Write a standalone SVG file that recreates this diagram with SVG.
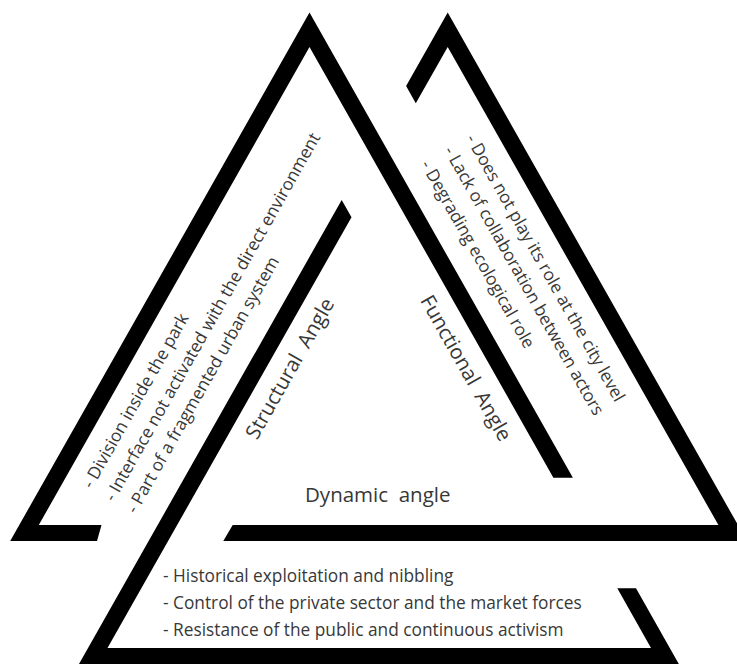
<svg xmlns="http://www.w3.org/2000/svg" width="737" height="664" viewBox="0 0 737 664">
  <style>
    .band { fill: #000; }
    .lbl { font-family: "Open Sans", "Noto Sans", "Liberation Sans", sans-serif; fill: #383838; }
    .title { font-size: 20.5px; }
    .item { font-size: 17.3px; }
  </style>
  <rect width="737" height="664" fill="#fff"/>

  <!-- three interlocking angle bands -->
  <g id="structural-angle">
    <polygon class="band" points="101.5,525 38.8,525 309.5,46.9 553.4,477.7 572.9,477.7 309.5,12.5 10.2,541 97,541"/>
  </g>
  <g id="functional-angle">
    <polygon class="band" points="406.1,86 447.7,12.5 747,541 223.3,541 232.7,525 718.4,525 447.7,46.9 415.8,103.2"/>
  </g>
  <g id="dynamic-angle">
    <polygon class="band" points="341.7,200 351.5,217.2 107.5,648 651,648 617.3,588.3 636,588.3 699.2,700 58.6,700"/>
  </g>

  <!-- angle titles (double-spaced words) -->
  <g id="titles" class="lbl title">
    <text transform="translate(296,372) rotate(-60.5)" text-anchor="middle">Structural&#160; Angle</text>
    <text transform="translate(460,371.5) rotate(60.5)" text-anchor="middle">Functional&#160; Angle</text>
    <text x="305" y="501.5">Dynamic&#160; angle</text>
  </g>

  <!-- structural issues, along the left band -->
  <g id="structural-list" class="lbl item">
    <text transform="translate(92,489.5) rotate(-60.5)">- Division inside the park</text>
    <text transform="translate(114,502.5) rotate(-60.5)">- Interface not activated with the direct environment</text>
    <text transform="translate(136,514.5) rotate(-60.5)">- Part of a fragmented urban system</text>
  </g>

  <!-- functional issues, along the right band -->
  <g id="functional-list" class="lbl item">
    <text transform="translate(465.6,138.5) rotate(60.5)">- Does not play its role at the city level</text>
    <text transform="translate(443.6,150.5) rotate(60.5)">- Lack of collaboration between actors</text>
    <text transform="translate(420.3,164.5) rotate(60.5)">- Degrading ecological role</text>
  </g>

  <!-- dynamic issues, along the base -->
  <g id="dynamic-list" class="lbl item">
    <text x="163" y="582.3">- Historical exploitation and nibbling</text>
    <text x="163" y="609.3">- Control of the private sector and the market forces</text>
    <text x="163" y="635.7">- Resistance of the public and continuous activism</text>
  </g>
</svg>
